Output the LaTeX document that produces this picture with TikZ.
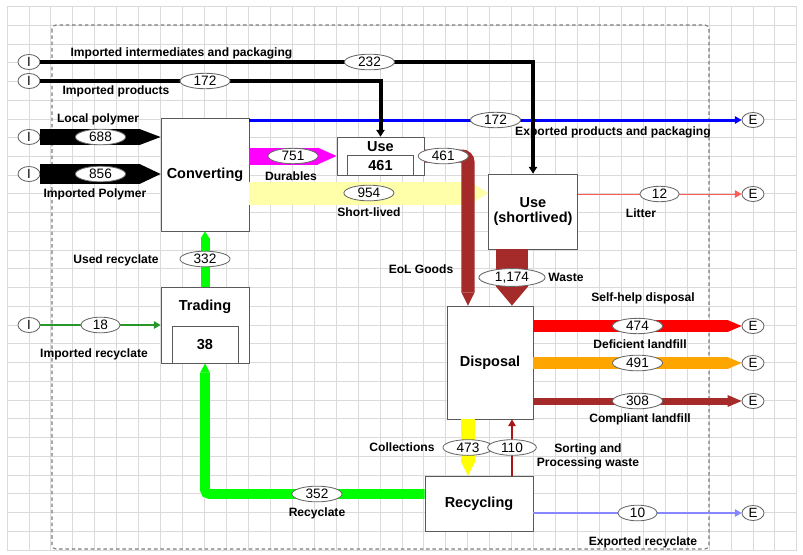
\documentclass[tikz,border=0pt]{standalone}
\usepackage{fontspec}
\setmainfont{Liberation Sans}
\usetikzlibrary{arrows.meta,shapes.geometric,calc}

\definecolor{gridgray}{RGB}{218,218,218}
\definecolor{framegray}{RGB}{125,125,125}
\definecolor{boxgray}{RGB}{90,90,90}
\definecolor{flowbrown}{RGB}{165,42,42}
\definecolor{sortred}{RGB}{170,20,20}
\definecolor{paleyellow}{RGB}{255,255,170}
\definecolor{flowyellow}{RGB}{255,255,0}
\definecolor{flowmagenta}{RGB}{255,0,255}
\definecolor{flowred}{RGB}{255,0,0}
\definecolor{flowblue}{RGB}{0,0,255}
\definecolor{litterred}{RGB}{255,90,90}
\definecolor{expblue}{RGB}{135,135,255}
\definecolor{recgreen}{RGB}{0,255,0}
\definecolor{impgreen}{RGB}{40,150,40}
\definecolor{landorange}{RGB}{255,165,0}

\tikzset{
  gridline/.style={gridgray, line width=0.6pt},
  boundary/.style={framegray, line width=0.8pt, dash pattern=on 2.5pt off 2pt, rounded corners=0.1cm},
  proc/.style={draw=boxgray, fill=white, line width=0.6pt, align=center,
    font=\fontsize{10.3}{11}\selectfont\bfseries},
  stock/.style={draw=boxgray, fill=white, line width=0.6pt,
    font=\fontsize{10.3}{11}\selectfont\bfseries},
  boxtext/.style={inner sep=0pt, font=\fontsize{10.3}{11}\selectfont\bfseries},
  term/.style={ellipse, draw=black!60, fill=white, text=black, line width=0.6pt, inner sep=0pt,
    minimum width=0.55cm, minimum height=0.375cm, font=\fontsize{9.5}{11}\selectfont},
  num/.style={ellipse, draw=black!60, fill=white, text=black, line width=0.6pt, inner xsep=4.5pt, inner ysep=0.5pt,
    minimum width=0.97cm, minimum height=0.385cm, font=\fontsize{9.7}{11}\selectfont},
  lbl/.style={inner sep=0pt, align=center, font=\fontsize{8.6}{10.5}\selectfont\bfseries},
  flow/.style n args={3}{line width=#1, -{Triangle[length=#2, width=#3, line width=0pt]}},
}

\begin{document}
\begin{tikzpicture}[x=0.025cm,y=-0.025cm]
\useasboundingbox (0,0) rectangle (803,554);
% grid
\foreach \gx in {0,...,36}
  \draw[gridline] ({7+21.94*\gx},6.5) -- ({7+21.94*\gx},550);
\foreach \gy in {0,...,29}
  \draw[gridline] (7,{6.5+18.74*\gy}) -- (797,{6.5+18.74*\gy});
\draw[boundary] (52,25) rectangle (709,549);

% processes
\node[proc, minimum width=2.2cm, minimum height=2.825cm] (conv) at (205,174.5) {Converting};
\node[proc, minimum width=2.175cm, minimum height=0.95cm] (use) at (380.5,156) {};
\node[boxtext] (usetxt) at (380.5,147) {Use};
\node[stock, minimum width=1.65cm, minimum height=0.475cm, anchor=south] (usestock) at (use.south) {461};
\node[proc, minimum width=2.2cm, minimum height=1.875cm] (usesl) at (533,211.5) {Use\\(shortlived)};
\node[proc, minimum width=2.2cm, minimum height=1.9cm] (trade) at (205,325) {};
\node[boxtext] (tradetxt) at (205,307) {Trading};
\node[stock, minimum width=1.65cm, minimum height=0.925cm, anchor=south] (tradestock) at (trade.south) {38};
\node[proc, minimum width=2.15cm, minimum height=2.825cm] (disp) at (490,362.5) {Disposal};
\node[proc, minimum width=2.7cm, minimum height=1.375cm] (recyc) at (479,503.5) {Recycling};

% imports and exports
\node[term] (i1) at (29,62) {I};
\node[term] (i2) at (29,81) {I};
\node[term] (i3) at (29,137) {I};
\node[term] (i4) at (29,174) {I};
\node[term] (i5) at (29,325) {I};
\node[term] (e1) at (753,120) {E};
\node[term] (e2) at (753,194) {E};
\node[term] (e3) at (753,326) {E};
\node[term] (e4) at (753,363) {E};
\node[term] (e5) at (753,401) {E};
\node[term] (e6) at (753,513) {E};

% flows
\draw[flow={0.575cm}{0.475cm}{0.575cm}, paleyellow] ([yshift=-0.4625cm]conv.east) -- node[num] (n954) {954} ([yshift=-0.4625cm]conv.east -| usesl.west);
\draw[flow={0.425cm}{0.475cm}{0.425cm}, flowmagenta] (conv.east |- use) -- node[num] (n751) {751} (use);
\draw[flow={0.075cm}{0.17cm}{0.2cm}, flowblue] (conv.north east |- e1) -- node[num] (n172e) {172} (e1);
\draw[flow={0.1cm}{0.17cm}{0.22cm}, black] (i2) -| node[num, pos=0.242] (n172i) {172} (use);
\draw[flow={0.1cm}{0.17cm}{0.22cm}, black] (i1) -| node[num, pos=0.334] (n232) {232} (usesl);
\draw[flow={0.4cm}{0.525cm}{0.4cm}, black] (i3) -- node[num] (n688) {688} (i3 -| conv.west);
\draw[flow={0.5cm}{0.525cm}{0.5cm}, black] (i4) -- node[num] (n856) {856} (i4 -| conv.west);
\draw[flow={0.325cm}{0.325cm}{0.325cm}, flowbrown, rounded corners=0.15cm] (use) -| node[num, pos=0.216] (n461) {461} ([xshift=-0.55cm]disp.north);
\draw[flow={0.8cm}{0.475cm}{0.8cm}, flowbrown] ([xshift=-0.525cm]usesl.south) -- node[num] (n1174) {1,174} ([xshift=-0.525cm]usesl.south |- disp.north);
\draw[flow={0.025cm}{0.17cm}{0.2cm}, litterred] (usesl.east |- e2) -- node[num] (n12) {12} (e2);
\draw[flow={0.3cm}{0.35cm}{0.3cm}, flowred] (disp.east |- e3) -- node[num] (n474) {474} (e3);
\draw[flow={0.3cm}{0.35cm}{0.3cm}, landorange] (disp.east |- e4) -- node[num] (n491) {491} (e4);
\draw[flow={0.175cm}{0.35cm}{0.3cm}, flowbrown] (disp.east |- e5) -- node[num] (n308) {308} (e5);
\draw[flow={0.325cm}{0.325cm}{0.325cm}, flowyellow] ([xshift=-0.55cm]disp.south) -- node[num] (n473) {473} ([xshift=-0.55cm]disp.south |- recyc.north);
\draw[flow={0.05cm}{0.17cm}{0.2cm}, sortred] ([xshift=0.825cm]recyc.north) -- node[num] (n110) {110} ([xshift=0.825cm]recyc.north |- disp.south);
\draw[flow={0.0375cm}{0.17cm}{0.2cm}, expblue] (recyc.east |- e6) -- node[num] (n10) {10} (e6);
\draw[flow={0.24cm}{0.225cm}{0.24cm}, recgreen, rounded corners=0.1cm] ([yshift=0.2375cm]recyc.west) -| node[num, pos=0.245] (n352) {352} (trade);
\draw[flow={0.225cm}{0.175cm}{0.225cm}, recgreen] (trade) -- node[num] (n332) {332} (conv);
\draw[flow={0.03cm}{0.17cm}{0.2cm}, impgreen] (i5) -- node[num] (n18) {18} (trade);

% flow labels
\node[lbl] (limpint) at (181.5,53) {Imported intermediates and packaging};
\node[lbl] (limpprod) at (116,91) {Imported products};
\node[lbl] (llocal) at (98,119) {Local polymer};
\node[lbl] (limppol) at (95,194) {Imported Polymer};
\node[lbl] (lexpprod) at (613,132) {Exported products and packaging};
\node[lbl] (ldur) at (291,176) {Durables};
\node[lbl] (lshort) at (369,212) {Short-lived};
\node[lbl] (leol) at (421,269) {EoL Goods};
\node[lbl] (lwaste) at (566,277) {Waste};
\node[lbl] (llitter) at (641,213) {Litter};
\node[lbl] (lself) at (643,298) {Self-help disposal};
\node[lbl] (ldef) at (640,344) {Deficient landfill};
\node[lbl] (lcomp) at (640,419) {Compliant landfill};
\node[lbl] (lcoll) at (402,447) {Collections};
\node[lbl] (lsort) at (588,456.5) {Sorting and\\Processing waste};
\node[lbl] (lrecy) at (317,513) {Recyclate};
\node[lbl] (lexprec) at (643,542) {Exported recyclate};
\node[lbl] (lused) at (116,260) {Used recyclate};
\node[lbl] (limprec) at (94,354) {Imported recyclate};
\end{tikzpicture}
\end{document}
